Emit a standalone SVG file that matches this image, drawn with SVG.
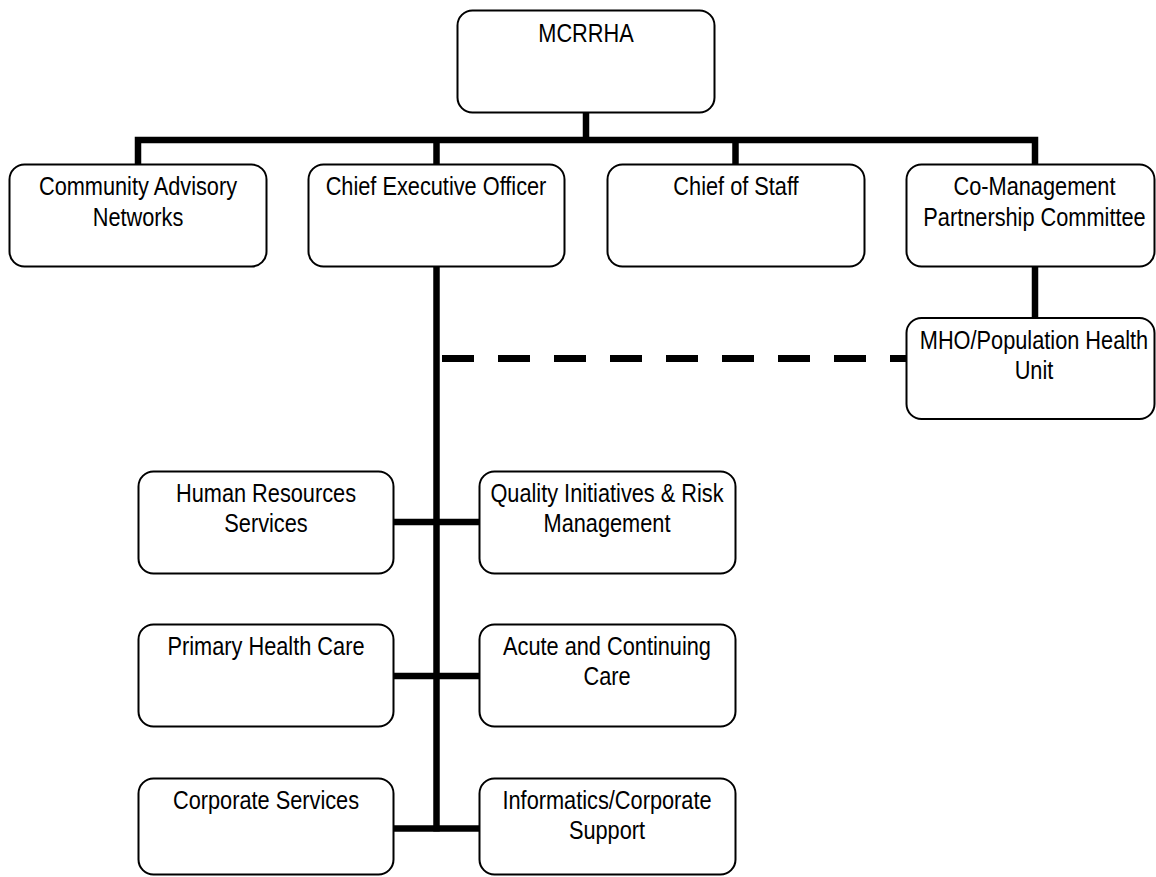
<svg xmlns="http://www.w3.org/2000/svg" width="1156" height="877" viewBox="0 0 1156 877">
<style>
.box{fill:#fff;stroke:#000;stroke-width:2}
.t{font-family:"Liberation Sans",Arial,sans-serif;font-size:25px;fill:#000;text-anchor:middle}
.c{fill:none;stroke:#000;stroke-width:6.5;stroke-linejoin:miter;stroke-linecap:butt}
.d{fill:none;stroke:#000;stroke-width:7;stroke-dasharray:32 24}
</style>
<rect width="1156" height="877" fill="#fff"/>
<g id="connectors">
<path class="c" d="M586,112 V140"/>
<path class="c" d="M138,164 V140 H1035 V164"/>
<path class="c" d="M436.5,140 V164"/>
<path class="c" d="M735.5,140 V164"/>
<path class="c" d="M1035,266 V318"/>
<path class="c" d="M436.5,266 V831.5"/>
<path class="c" d="M393,522 H479"/>
<path class="c" d="M393,676 H479"/>
<path class="c" d="M393,828.5 H479"/>
<path class="d" d="M442,358.5 H906"/>
</g>
<g id="mcrrha">
<rect class="box" x="457.5" y="10.5" width="257" height="102" rx="15"/>
<text class="t" transform="translate(586,42) scale(0.87,1)">MCRRHA</text>
</g>
<g id="community">
<rect class="box" x="9.5" y="164.5" width="257" height="102" rx="15"/>
<text class="t" transform="translate(138,195) scale(0.87,1)"><tspan x="0" y="0">Community Advisory</tspan><tspan x="0" y="31">Networks</tspan></text>
</g>
<g id="ceo">
<rect class="box" x="308.5" y="164.5" width="256" height="102" rx="15"/>
<text class="t" transform="translate(436,195) scale(0.87,1)">Chief Executive Officer</text>
</g>
<g id="chief-of-staff">
<rect class="box" x="607.5" y="164.5" width="257" height="102" rx="15"/>
<text class="t" transform="translate(736,195) scale(0.87,1)">Chief of Staff</text>
</g>
<g id="co-management">
<rect class="box" x="906.5" y="164.5" width="248" height="102" rx="15"/>
<text class="t" transform="translate(1034.5,195) scale(0.87,1)"><tspan x="0" y="0">Co-Management</tspan><tspan x="0" y="31">Partnership Committee</tspan></text>
</g>
<g id="mho">
<rect class="box" x="906.5" y="318" width="248" height="101" rx="15"/>
<text class="t" transform="translate(1034,349) scale(0.87,1)"><tspan x="0" y="0">MHO/Population Health</tspan><tspan x="0" y="30">Unit</tspan></text>
</g>
<g id="human-resources">
<rect class="box" x="138.5" y="471.5" width="255" height="102" rx="15"/>
<text class="t" transform="translate(266,502) scale(0.87,1)"><tspan x="0" y="0">Human Resources</tspan><tspan x="0" y="30">Services</tspan></text>
</g>
<g id="quality">
<rect class="box" x="479.5" y="471.5" width="256" height="102" rx="15"/>
<text class="t" transform="translate(607,502) scale(0.87,1)"><tspan x="0" y="0">Quality Initiatives &amp; Risk</tspan><tspan x="0" y="30">Management</tspan></text>
</g>
<g id="primary">
<rect class="box" x="138.5" y="624.5" width="255" height="102" rx="15"/>
<text class="t" transform="translate(266,655) scale(0.87,1)">Primary Health Care</text>
</g>
<g id="acute">
<rect class="box" x="479.5" y="624.5" width="256" height="102" rx="15"/>
<text class="t" transform="translate(607,655) scale(0.87,1)"><tspan x="0" y="0">Acute and Continuing</tspan><tspan x="0" y="30">Care</tspan></text>
</g>
<g id="corporate">
<rect class="box" x="138.5" y="778.5" width="255" height="96" rx="15"/>
<text class="t" transform="translate(266,809) scale(0.87,1)">Corporate Services</text>
</g>
<g id="informatics">
<rect class="box" x="479.5" y="778.5" width="256" height="96" rx="15"/>
<text class="t" transform="translate(607,809) scale(0.87,1)"><tspan x="0" y="0">Informatics/Corporate</tspan><tspan x="0" y="30">Support</tspan></text>
</g>
</svg>
